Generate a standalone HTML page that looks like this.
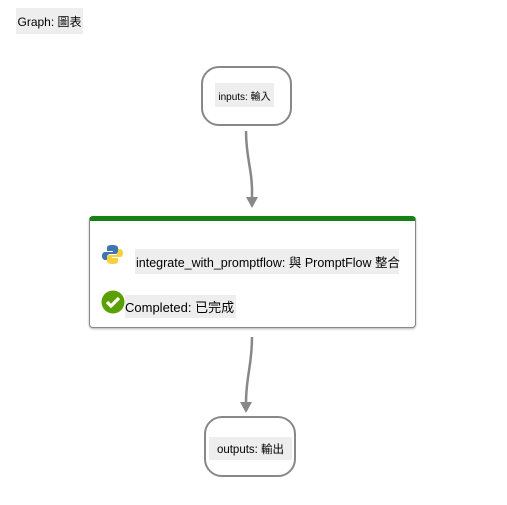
<html><head><style>
body{margin:0;width:507px;height:505px;background:#fff;position:relative;overflow:hidden;font-family:"Liberation Sans","Noto Sans CJK TC",sans-serif;color:#000}
.a{position:absolute}
.lb{position:absolute;background:#eee;white-space:nowrap;display:flex;align-items:center}
</style></head><body>
<div class="lb" style="left:16px;top:8px;width:67px;height:26px;font-size:12px;justify-content:center">Graph: 圖表</div>
<div class="a" style="left:201px;top:66px;width:87px;height:56px;border:2px solid #888;border-radius:18px;background:#fff"></div>
<div class="lb" style="left:215px;top:83px;width:59px;height:24px;font-size:10px;justify-content:center">inputs: 輸入</div>
<svg class="a" style="left:0;top:0" width="507" height="505">
<path d="M246 131 C246 160 253 170 252 198" stroke="#888" stroke-width="2.5" fill="none"/>
<polygon points="246,197 258,197 252,208" fill="#888"/>
<path d="M252 337 C252 366 246 376 246 403" stroke="#888" stroke-width="2.5" fill="none"/>
<polygon points="240,402 252,402 246,413" fill="#888"/>
</svg>
<div class="a" style="left:89px;top:216px;width:325px;border:1px solid #888;border-top:5px solid #178017;border-radius:4px;background:#fff;height:106px;box-shadow:0 1px 2px rgba(0,0,0,0.3)"></div>
<svg class="a" style="left:102px;top:244px" width="21" height="21" viewBox="0 0 21 21">
<path d="M10 1C5 1 5 3 5 4v3h6v1H3C1 8 0 10 0 12s1 4 3 4h2v-3c0-2 2-3 3-3h5c2 0 3-1 3-3V4c0-2-2-3-6-3z" fill="#3d76b0"/>
<path d="M11 20c5 0 5-2 5-3v-3h-6v-1h8c2 0 3-2 3-4s-1-4-3-4h-2v3c0 2-2 3-3 3H8c-2 0-3 1-3 3v3c0 2 2 3 6 3z" fill="#f7cf3f"/>
</svg>
<div class="lb" style="left:135px;top:249px;width:263px;height:25px;font-size:12.5px;padding-left:1px">integrate_with_promptflow: 與 PromptFlow 整合</div>
<div class="lb" style="left:125px;top:295px;width:111px;height:23px;font-size:13px">Completed: 已完成</div>
<svg class="a" style="left:101px;top:290px" width="24" height="24">
<circle cx="12" cy="12" r="11.5" fill="#5aa000"/>
<path d="M6 12l4 4 8-8" stroke="#fff" stroke-width="3.2" fill="none"/>
</svg>
<div class="a" style="left:204px;top:416px;width:88px;height:57px;border:2px solid #888;border-radius:18px;background:#fff"></div>
<div class="lb" style="left:209px;top:437px;width:83px;height:23px;font-size:11.5px;justify-content:center">outputs: 輸出</div>
</body></html>
